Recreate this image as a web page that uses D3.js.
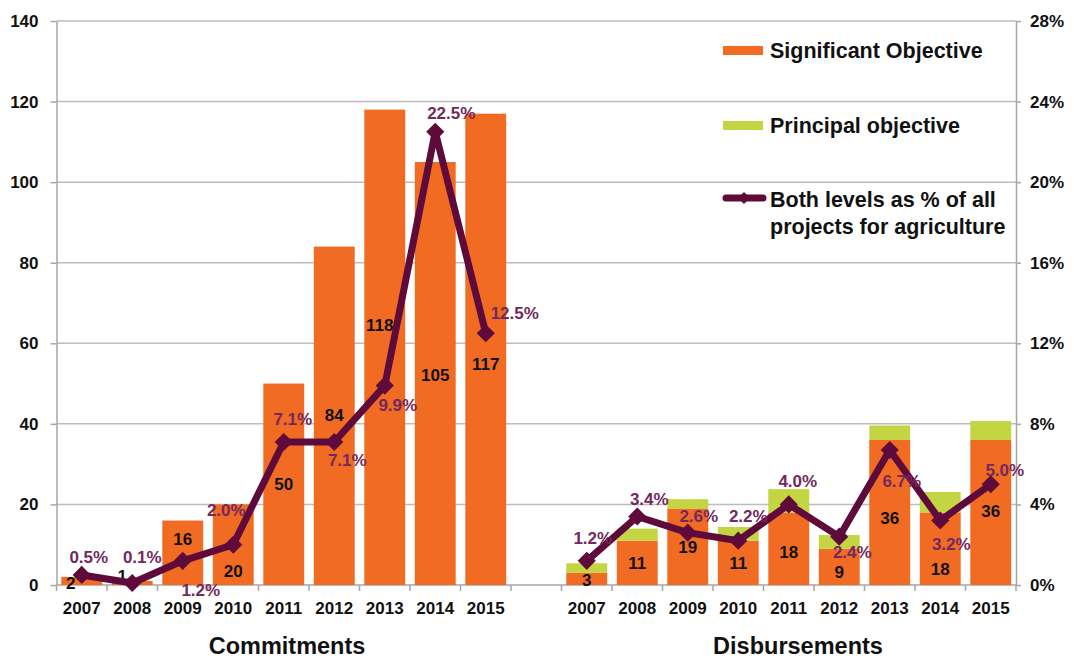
<!DOCTYPE html>
<html>
<head>
<meta charset="utf-8">
<script src="https://cdn.jsdelivr.net/npm/d3@7"></script>
<style>
  body { margin: 0; background: #fff; }
  svg text { font-family: "Liberation Sans", Arial, sans-serif; font-weight: bold; }
  .grid line { stroke: #bdbdbd; stroke-width: 1.5; }
  .axis path, .axis line { stroke: #a6a6a6; stroke-width: 1.5; }
  .axis text { font-size: 17px; fill: #111; }
</style>
</head>
<body>
<script>
(function(){

    //chart values
    var years = ["2007", "2008", "2009", "2010", "2011", "2012", "2013", "2014", "2015"];
    var commitSignificant = [2, 1, 16, 20, 50, 84, 118, 105, 117];
    var commitPct = [0.5, 0.1, 1.2, 2.0, 7.1, 7.1, 9.9, 22.5, 12.5];
    var disbSignificant = [3, 11, 19, 11, 18, 9, 36, 18, 36];
    var disbPrincipal = [2.4, 3, 2.3, 3.4, 5.8, 3.4, 3.6, 5.1, 4.7];
    var disbPct = [1.2, 3.4, 2.6, 2.2, 4.0, 2.4, 6.7, 3.2, 5.0];
    var leftTicks = [0, 20, 40, 60, 80, 100, 120, 140];
    var rightTicks = [0, 4, 8, 12, 16, 20, 24, 28];

    //label placement (px nudges from marker / bar centre)
    var commitPctDx = [7, 10, 18, -7, 9, 13, 13, 16, 29];
    var commitPctDy = [-12, -20, 35, -29, -17, 24, 25, -13, -14];
    var commitValDx = [-11, -10, 0, 0, 0, 0, -5, 0, 0];
    var commitValDy = [2, -7, -14, 26, 0, -1, -22, 1, 15];
    var disbPctDx = [6, 12, 11, 10, 9, 13, 12, 11, 14];
    var disbPctDy = [-17, -12, -11, -19, -17, 21, 37, 29, -8];
    var disbValDx = [0, 0, 0, 0, 0, 0, 0, 0, 0];
    var disbValDy = [1, 0, 0, 0, 3, 5, 6, 20, -1];

    var colors = {orange: "#f26b22", green: "#c4d544", line: "#5e0a3a", label: "#73295d"};

    var width = 1074, height = 660;
    var left = 56.5, right = 1016, top = 21, bottom = 585;

    var svg = d3.select("body").append("svg")
        .attr("width", width)
        .attr("height", height);

    var y = d3.scaleLinear().domain([0, 140]).range([bottom, top]);
    var yPct = d3.scaleLinear().domain([0, 28]).range([bottom, top]);

    //one band scale: commitments, an empty slot, disbursements
    var cKeys = years.map(function(d){ return "c" + d; });
    var dKeys = years.map(function(d){ return "d" + d; });
    var x = d3.scaleBand()
        .domain(cKeys.concat(["gap"], dKeys))
        .range([left, right])
        .paddingInner(0.19)
        .paddingOuter(0.095);
    var bw = x.bandwidth(), half = x.paddingInner() * x.step() / 2;

    //gridlines
    svg.append("g").attr("class", "grid")
        .selectAll("line").data(leftTicks.slice(1)).enter()
        .append("line")
        .attr("x1", left).attr("x2", right)
        .attr("y1", function(d){ return y(d); })
        .attr("y2", function(d){ return y(d); });

    //left axis
    svg.append("g").attr("class", "axis")
        .attr("transform", "translate(" + left + ",0)")
        .call(d3.axisLeft(y).tickValues(leftTicks).tickSize(6).tickSizeOuter(0).tickPadding(12));

    //right axis
    svg.append("g").attr("class", "axis")
        .attr("transform", "translate(" + right + ",0)")
        .call(d3.axisRight(yPct).tickValues(rightTicks).tickSize(5).tickSizeOuter(0).tickPadding(9)
            .tickFormat(function(d){ return d + "%"; }));

    //category axis with ticks between slots
    var xg = svg.append("g").attr("class", "axis");
    xg.append("line").attr("x1", left).attr("x2", right).attr("y1", bottom).attr("y2", bottom);
    var edges = x.domain().map(function(k){ return x(k) - half; });
    edges.push(right);
    xg.selectAll(".tk").data(edges).enter().append("line")
        .attr("x1", function(d){ return d; }).attr("x2", function(d){ return d; })
        .attr("y1", bottom).attr("y2", bottom + 6);
    xg.selectAll(".yr").data(cKeys.concat(dKeys)).enter().append("text")
        .attr("x", function(d){ return x(d) + bw / 2; })
        .attr("y", bottom + 29)
        .attr("text-anchor", "middle")
        .text(function(d){ return d.slice(1); });

    //commitments bars
    svg.selectAll(".cbar").data(commitSignificant).enter().append("rect")
        .attr("x", function(d, i){ return x(cKeys[i]); })
        .attr("width", bw)
        .attr("y", function(d){ return y(d); })
        .attr("height", function(d){ return y(0) - y(d); })
        .style("fill", colors.orange);

    //disbursement bars (stacked)
    svg.selectAll(".dbar").data(disbSignificant).enter().append("rect")
        .attr("x", function(d, i){ return x(dKeys[i]); })
        .attr("width", bw)
        .attr("y", function(d){ return y(d); })
        .attr("height", function(d){ return y(0) - y(d); })
        .style("fill", colors.orange);
    svg.selectAll(".pbar").data(disbPrincipal).enter().append("rect")
        .attr("x", function(d, i){ return x(dKeys[i]); })
        .attr("width", bw)
        .attr("y", function(d, i){ return y(disbSignificant[i] + d); })
        .attr("height", function(d){ return y(0) - y(d); })
        .style("fill", colors.green);

    //value labels in bars
    function valueLabels(vals, keys, dxs, dys){
        svg.selectAll(null).data(vals).enter().append("text")
            .attr("x", function(d, i){ return x(keys[i]) + bw / 2 + dxs[i]; })
            .attr("y", function(d, i){ return (y(d) + y(0)) / 2 + 6 + dys[i]; })
            .attr("text-anchor", "middle")
            .style("font-size", "17px")
            .style("fill", "#111")
            .text(function(d){ return d; });
    }

    //line series with diamond markers
    var diamond = d3.symbol().type(d3.symbolSquare).size(165);
    function drawLine(pcts, keys, dxs, dys){
        var cx = function(d, i){ return x(keys[i]) + bw / 2; };
        var line = d3.line()
            .x(cx)
            .y(function(d){ return yPct(d); });
        svg.append("path").datum(pcts)
            .attr("d", line)
            .style("fill", "none")
            .style("stroke", colors.line)
            .style("stroke-width", 7)
            .style("stroke-linejoin", "round");
        svg.selectAll(null).data(pcts).enter().append("path")
            .attr("d", diamond)
            .attr("transform", function(d, i){
                return "translate(" + cx(d, i) + "," + yPct(d) + ") rotate(45)";
            })
            .style("fill", colors.line);
        svg.selectAll(null).data(pcts).enter().append("text")
            .attr("x", function(d, i){ return cx(d, i) + dxs[i]; })
            .attr("y", function(d, i){ return yPct(d) + dys[i]; })
            .attr("text-anchor", "middle")
            .style("font-size", "17px")
            .style("fill", colors.label)
            .text(function(d){ return d.toFixed(1) + "%"; });
    }

    valueLabels(commitSignificant, cKeys, commitValDx, commitValDy);
    valueLabels(disbSignificant, dKeys, disbValDx, disbValDy);
    drawLine(commitPct, cKeys, commitPctDx, commitPctDy);
    drawLine(disbPct, dKeys, disbPctDx, disbPctDy);

    //group titles
    svg.append("text").attr("x", 287).attr("y", 654).attr("text-anchor", "middle")
        .style("font-size", "23.5px").style("fill", "#111").text("Commitments");
    svg.append("text").attr("x", 798).attr("y", 654).attr("text-anchor", "middle")
        .style("font-size", "23.5px").style("fill", "#111").text("Disbursements");

    //legend
    var lg = svg.append("g").attr("transform", "translate(723,0)");
    lg.append("rect").attr("x", 0).attr("y", 46).attr("width", 40).attr("height", 9).style("fill", colors.orange);
    lg.append("text").attr("x", 47).attr("y", 58).style("font-size", "21.5px").style("fill", "#111").text("Significant Objective");
    lg.append("rect").attr("x", 0).attr("y", 121).attr("width", 40).attr("height", 9).style("fill", colors.green);
    lg.append("text").attr("x", 47).attr("y", 133).style("font-size", "21.5px").style("fill", "#111").text("Principal objective");
    lg.append("line").attr("x1", 3).attr("x2", 40).attr("y1", 198).attr("y2", 198)
        .style("stroke", colors.line).style("stroke-width", 7).style("stroke-linecap", "round");
    lg.append("path").attr("d", diamond.size(70)).attr("transform", "translate(21,198) rotate(45)").style("fill", colors.line);
    lg.append("text").attr("x", 47).attr("y", 207).style("font-size", "21.5px").style("fill", "#111").text("Both levels as % of all");
    lg.append("text").attr("x", 47).attr("y", 234).style("font-size", "21.5px").style("fill", "#111").text("projects for agriculture");

})();
</script>
</body>
</html>
